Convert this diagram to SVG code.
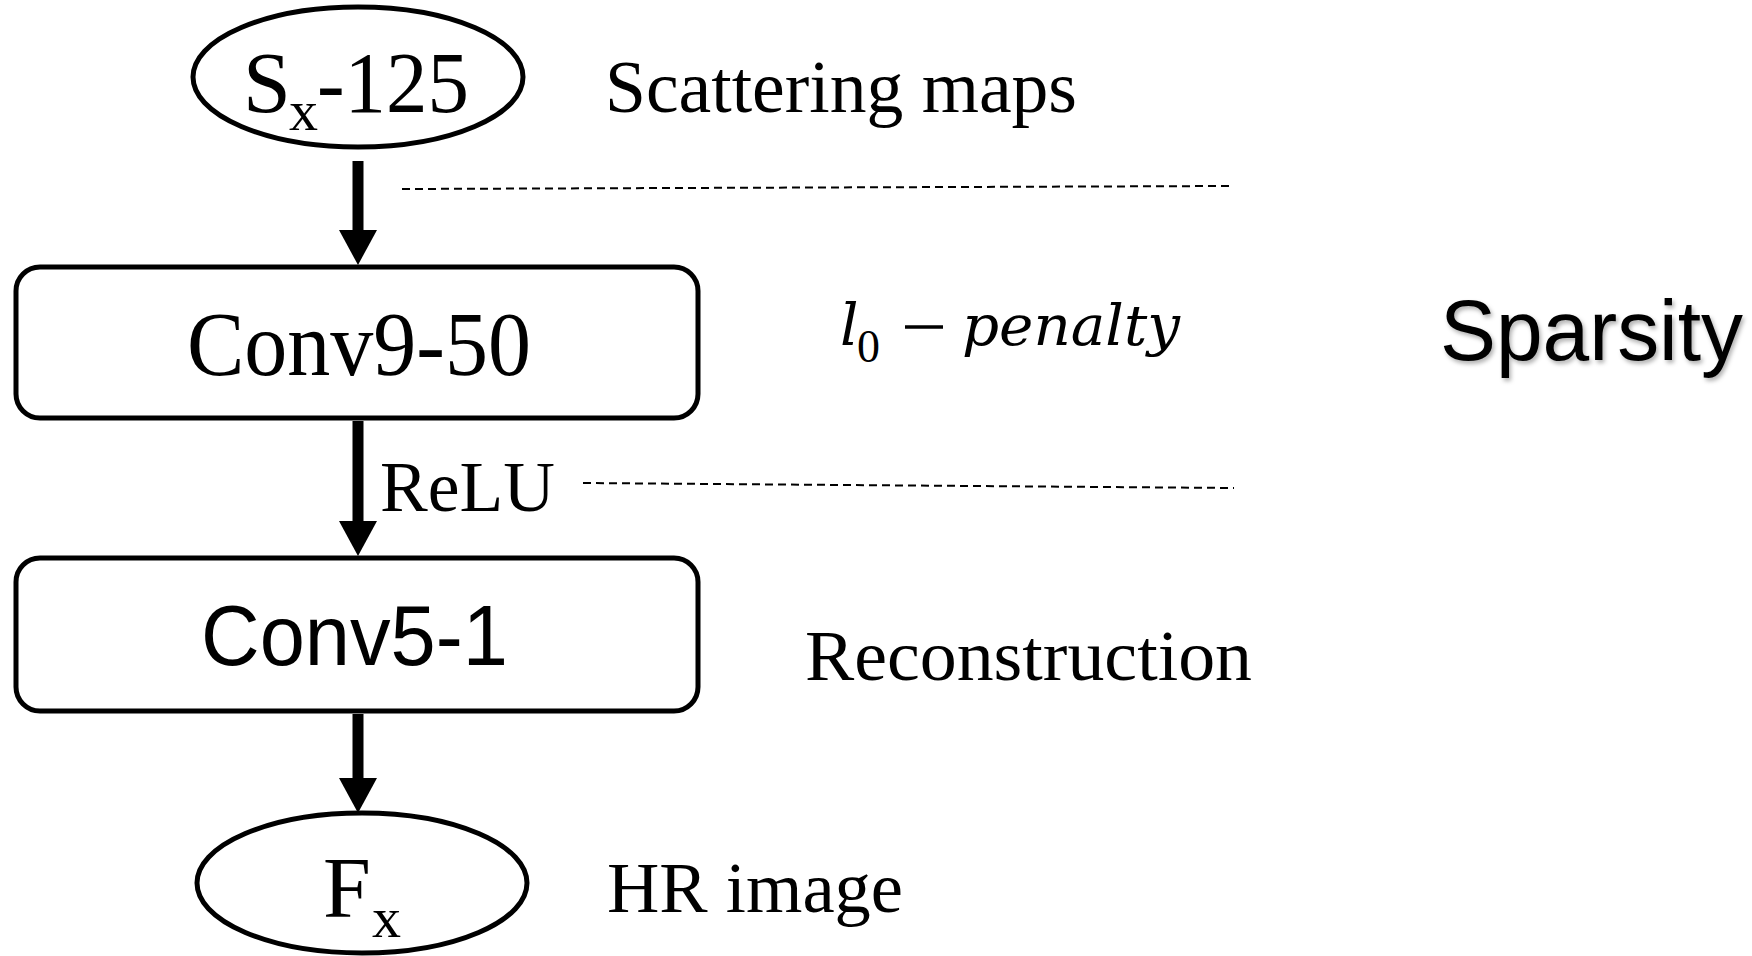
<svg xmlns="http://www.w3.org/2000/svg" width="1752" height="956" viewBox="0 0 1752 956">
<defs>
<style>
.shape{fill:#fff;stroke:#000;stroke-width:5}
.serif{font-family:"Liberation Serif","Times New Roman",serif;fill:#000}
.sans{font-family:"Liberation Sans",Arial,sans-serif;fill:#000}
.math{font-family:"DejaVu Serif","Liberation Serif",serif;font-style:italic;fill:#000}
.shaft{stroke:#000;stroke-width:11;fill:none}
.dash{stroke:#000;stroke-width:2;stroke-dasharray:8 5;fill:none}
</style>
<filter id="sh" x="-5%" y="-20%" width="115%" height="150%">
<feDropShadow dx="2" dy="3" stdDeviation="2" flood-color="#000" flood-opacity="0.3"/>
</filter>
</defs>
<rect width="1752" height="956" fill="#fff"/>

<g id="connectors">
<line class="shaft" x1="358" y1="161" x2="358" y2="232"/>
<polygon points="339,230 377,230 358,265"/>
<line class="shaft" x1="358" y1="421" x2="358" y2="524"/>
<polygon points="339,521 377,521 358,556"/>
<line class="shaft" x1="358" y1="714" x2="358" y2="780"/>
<polygon points="339,778 377,778 358,813"/>
<line class="dash" x1="402" y1="189" x2="1229" y2="186"/>
<line class="dash" x1="583" y1="483" x2="1234" y2="488"/>
</g>

<g id="node-sx">
<ellipse class="shape" cx="358" cy="77" rx="165" ry="70" stroke-width="4.5"/>
<text class="serif" x="243" y="112" font-size="86">S</text>
<text class="serif" x="289" y="130" font-size="58">x</text>
<text class="serif" x="317" y="112" font-size="86" textLength="152" lengthAdjust="spacingAndGlyphs">-125</text>
</g>

<g id="node-conv9">
<rect class="shape" x="16" y="267" width="682" height="151" rx="24"/>
<text class="serif" x="187" y="375" font-size="91" textLength="344" lengthAdjust="spacingAndGlyphs">Conv9-50</text>
</g>

<g id="node-conv5">
<rect class="shape" x="16" y="558" width="682" height="153" rx="24"/>
<text class="sans" x="201" y="665" font-size="86" textLength="307" lengthAdjust="spacingAndGlyphs">Conv5-1</text>
</g>

<g id="node-fx">
<ellipse class="shape" cx="362" cy="883" rx="165" ry="70" stroke-width="4.5"/>
<text class="serif" x="323" y="917" font-size="86">F</text>
<text class="serif" x="372" y="937" font-size="58">x</text>
</g>

<g id="labels">
<text class="serif" x="605" y="112" font-size="75" textLength="472" lengthAdjust="spacingAndGlyphs">Scattering maps</text>
<text class="serif" x="380" y="511" font-size="72" textLength="175" lengthAdjust="spacingAndGlyphs">ReLU</text>
<text class="math" x="840" y="345" font-size="58">l</text>
<text class="serif" x="857" y="362" font-size="46">0</text>
<line x1="905" y1="327" x2="943" y2="327" stroke="#000" stroke-width="3.5"/>
<text class="math" x="962" y="345" font-size="56" textLength="218" lengthAdjust="spacingAndGlyphs">penalty</text>
<text class="sans" x="1440" y="360" font-size="86" textLength="303" lengthAdjust="spacingAndGlyphs" filter="url(#sh)">Sparsity</text>
<text class="serif" x="805" y="680" font-size="72" textLength="447" lengthAdjust="spacingAndGlyphs">Reconstruction</text>
<text class="serif" x="607" y="912" font-size="72" textLength="296" lengthAdjust="spacingAndGlyphs">HR image</text>
</g>
</svg>
